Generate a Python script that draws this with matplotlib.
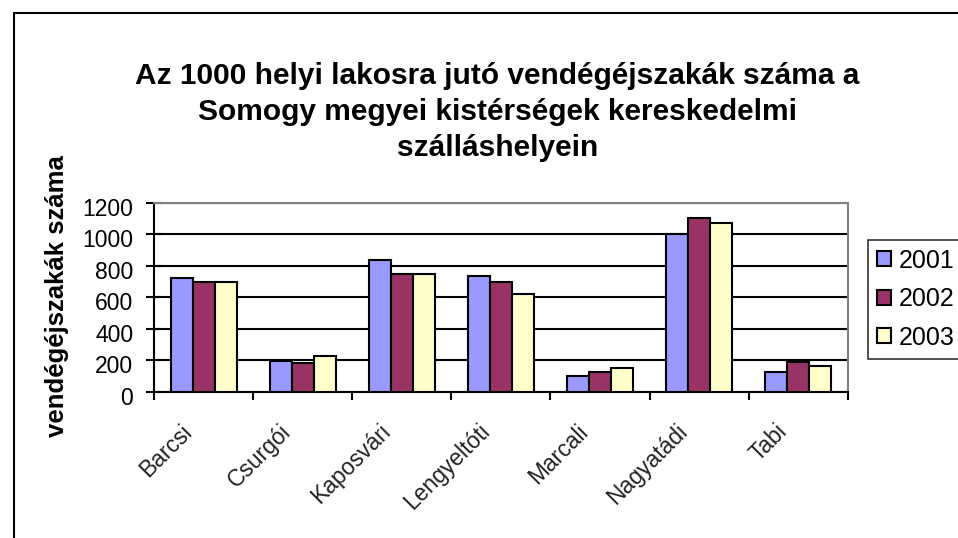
import numpy as np
import matplotlib
matplotlib.use("Agg")
import matplotlib.pyplot as plt
from matplotlib.patches import Rectangle
from matplotlib.transforms import ScaledTranslation

plt.rcParams["font.family"] = ["Liberation Sans", "DejaVu Sans"]

# data
CATEGORIES = ["Barcsi", "Csurgói", "Kaposvári", "Lengyeltóti", "Marcali", "Nagyatádi", "Tabi"]
YEARS = ["2001", "2002", "2003"]
V2001 = [723, 198, 840, 738, 100, 1005, 125]
V2002 = [700, 187, 749, 700, 125, 1106, 189]
V2003 = [700, 227, 751, 621, 151, 1070, 164]
COLORS = ["#9999FF", "#993366", "#FFFFCC"]
TITLE = "Az 1000 helyi lakosra jutó vendégéjszakák száma a\nSomogy megyei kistérségek kereskedelmi\nszálláshelyein"

fig = plt.figure(figsize=(9.58, 5.38), dpi=100)
ax = fig.add_axes([0.1608, 0.2714, 0.885 - 0.1608, 0.6227 - 0.2714])

# outer chart border
fig.patches.append(Rectangle((14 / 958, -0.05), 1.0, 0.05 + (538 - 13) / 538,
                             transform=fig.transFigure, fill=False,
                             edgecolor="black", lw=1.5, zorder=0))

x = np.arange(len(CATEGORIES))
w = 1 / 4.5
for i, (vals, col, yr) in enumerate(zip([V2001, V2002, V2003], COLORS, YEARS)):
    ax.bar(x + (i - 1) * w, vals, width=w, color=col, edgecolor="black",
           lw=1.5, label=yr, zorder=3)

ax.set_xlim(-0.5, len(CATEGORIES) - 0.5)
ax.set_ylim(0, 1200)
ax.set_yticks(range(0, 1201, 200))
ax.yaxis.grid(True, color="black", lw=1.5, zorder=0)
ax.tick_params(axis="y", labelsize=16.5, length=12, width=1.5, direction="inout", pad=9)
ydown = ScaledTranslation(0, -0.04, fig.dpi_scale_trans)
for lab in ax.get_yticklabels():
    lab.set_transform(lab.get_transform() + ydown)

ax.set_xticks(x)
ax.set_xticklabels(CATEGORIES, rotation=45, ha="right", va="center",
                   rotation_mode="anchor", fontsize=16.5, color="#222222")
ax.tick_params(axis="x", which="major", length=0, pad=0)
shift = ScaledTranslation(-0.15, -0.36, fig.dpi_scale_trans)
for lab in ax.get_xticklabels():
    lab.set_transform(lab.get_transform() + shift)
ax.set_xticks(np.arange(-0.5, len(CATEGORIES), 1), minor=True)
ax.tick_params(axis="x", which="minor", length=6, width=1.5, direction="out")

for side in ["top", "right"]:
    ax.spines[side].set_color("#808080")
    ax.spines[side].set_linewidth(1.5)
for side in ["left", "bottom"]:
    ax.spines[side].set_color("black")
    ax.spines[side].set_linewidth(1.5)

ax.set_ylabel("vendégéjszakák száma", fontsize=18.5, fontweight="bold")
ax.yaxis.set_label_coords(57 / 958, (538 - 296) / 538, transform=fig.transFigure)
ax.yaxis.label.set_verticalalignment("center")

fig.text(0.519, (538 - 112) / 538, TITLE, ha="center", va="center",
         fontsize=21.5, fontweight="bold", linespacing=1.36)

leg = ax.legend(loc="upper left", bbox_to_anchor=(868 / 958, (538 - 240) / 538),
                bbox_transform=fig.transFigure, fontsize=18,
                frameon=True, fancybox=False, edgecolor="black",
                handlelength=0.55, handleheight=0.55, handletextpad=0.35,
                labelspacing=0.58, borderpad=0.35, borderaxespad=0)
leg.get_frame().set_linewidth(1.2)

fig.savefig("out.png", dpi=100)
